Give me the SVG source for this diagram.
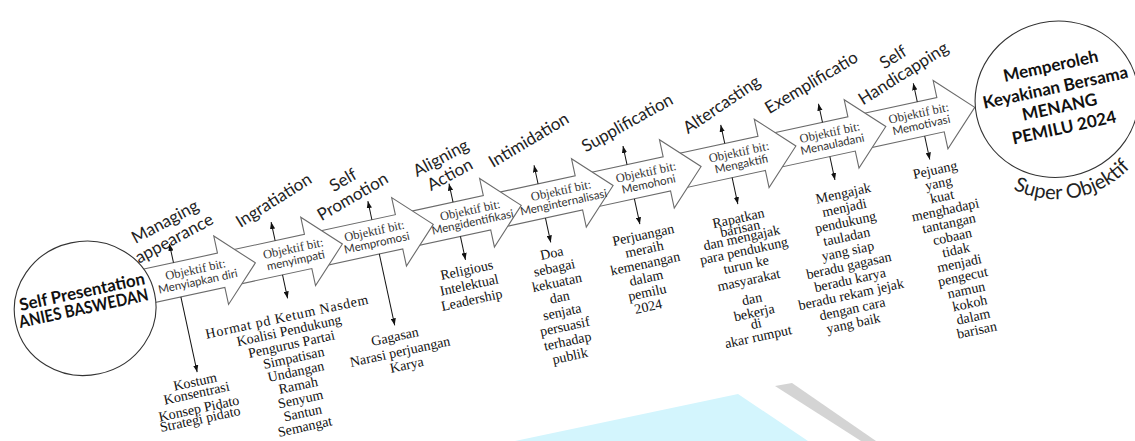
<svg xmlns="http://www.w3.org/2000/svg" width="1135" height="441" viewBox="0 0 1135 441">
<defs>
<style>
.arrow{fill:#fff;stroke:#6b6b6b;stroke-width:1.1}
.circ{fill:#fff;stroke:#333;stroke-width:1.1}
.tick{stroke:#111;stroke-width:1;fill:none;marker-end:url(#ah)}
.tac{font-family:Lato,"Open Sans",sans-serif;font-size:17px;fill:#222;text-anchor:middle}
.ob1{font-family:"Liberation Serif",serif;font-size:12.5px;fill:#333;text-anchor:middle}
.ob2{font-family:Lato,sans-serif;font-size:11.5px;fill:#333;text-anchor:middle}
.tm{font-family:"Liberation Serif",serif;font-size:14px;fill:#111;text-anchor:middle}
.bold{font-family:Lato,sans-serif;font-weight:bold;font-size:17px;fill:#111;text-anchor:middle}
.sup{font-family:Lato,sans-serif;font-size:20px;fill:#222}
</style>
<marker id="ah" viewBox="0 0 8 6" refX="8" refY="3" markerWidth="7" markerHeight="5.5" markerUnits="userSpaceOnUse" orient="auto"><path d="M0,0L8,3L0,6z" fill="#111"/></marker>
<clipPath id="exclip"><rect x="-80" y="-30" width="128" height="60"/></clipPath>
<path id="superArc" d="M1008.3,380.7 A100,100 0 0 0 1165.6,360"/>
</defs>
<rect width="1135" height="441" fill="#fff"/>
<g id="watermark">
<polygon points="515,441 738,394 808,441" fill="#d3f5fd"/>
<polygon points="775,386 792,383 876,441 861,441" fill="#d4d4d4"/>
</g>
<g transform="rotate(-12.2 82 308)">
<g id="step9">
<polygon class="arrow" points="876,283 962,283 962,265.5 997,300.5 962,335.5 962,318 876,318"/>
<text class="ob1" x="941" y="298.5">Objektif bit:</text>
<text class="ob2" x="941" y="310.5">Memotivasi</text>
<g transform="translate(931,243) rotate(-20)"><text class="tac" x="0" y="-3.5">Self</text><text class="tac" x="0" y="15.5">Handicapping</text></g>
</g>
<g id="step8">
<polygon class="arrow" points="784,283 871,283 871,265.5 906,300.5 871,335.5 871,318 784,318"/>
<text class="ob1" x="850" y="298.5">Objektif bit:</text>
<text class="ob2" x="850" y="310.5">Menauladani</text>
<g transform="translate(847,240) rotate(-18.6)"><g clip-path="url(#exclip)"><text class="tac" x="0" y="6">Exemplification</text></g></g>
</g>
<g id="step7">
<polygon class="arrow" points="687,283 779,283 779,265.5 814,300.5 779,335.5 779,318 687,318"/>
<text class="ob1" x="757" y="298.5">Objektif bit:</text>
<text class="ob2" x="757" y="310.5">Mengaktifi</text>
<g transform="translate(750,244) rotate(-22)"><text class="tac" x="0" y="6">Altercasting</text></g>
</g>
<g id="step6">
<polygon class="arrow" points="597,283 682,283 682,265.5 717,300.5 682,335.5 682,318 597,318"/>
<text class="ob1" x="662" y="298.5">Objektif bit:</text>
<text class="ob2" x="662" y="310.5">Memohoni</text>
<g transform="translate(654,242) rotate(-17)"><text class="tac" x="0" y="6">Supplification</text></g>
</g>
<g id="step5">
<polygon class="arrow" points="503,283 592,283 592,265.5 627,300.5 592,335.5 592,318 503,318"/>
<text class="ob1" x="575" y="298.5">Objektif bit:</text>
<text class="ob2" x="575" y="310.5">Menginternalisasi</text>
<g transform="translate(554,238) rotate(-18.6)"><text class="tac" x="0" y="6">Intimidation</text></g>
</g>
<g id="step4">
<polygon class="arrow" points="413,283 498,283 498,265.5 533,300.5 498,335.5 498,318 413,318"/>
<text class="ob1" x="482" y="298.5">Objektif bit:</text>
<text class="ob2" x="482" y="310.5">Mengidentifikasi</text>
<g transform="translate(467,246) rotate(-16)"><text class="tac" x="0" y="-3.5">Aligning</text><text class="tac" x="0" y="15.5">Action</text></g>
</g>
<g id="step3">
<polygon class="arrow" points="320,283 408,283 408,265.5 443,300.5 408,335.5 408,318 320,318"/>
<text class="ob1" x="384" y="298.5">Objektif bit:</text>
<text class="ob2" x="384" y="310.5">Mempromosi</text>
<g transform="translate(367,247) rotate(-18)"><text class="tac" x="0" y="-3.5">Self</text><text class="tac" x="0" y="15.5">Promotion</text></g>
</g>
<g id="step2">
<polygon class="arrow" points="231,283 315,283 315,265.5 350,300.5 315,335.5 315,318 231,318"/>
<text class="ob1" x="301" y="298.5">Objektif bit:</text>
<text class="ob2" x="301" y="310.5">menyimpati</text>
<g transform="translate(292,243) rotate(-20)"><text class="tac" x="0" y="6">Ingratiation</text></g>
</g>
<g id="step1">
<polygon class="arrow" points="140,283 226,283 226,265.5 261,300.5 226,335.5 226,318 140,318"/>
<text class="ob1" x="201" y="298.5">Objektif bit:</text>
<text class="ob2" x="201" y="310.5">Menyiapkan diri</text>
<g transform="translate(184,250) rotate(-16)"><text class="tac" x="0" y="-3.5">Managing</text><text class="tac" x="0" y="15.5">appearance</text></g>
</g>
<g id="self-presentation">
<ellipse class="circ" cx="85" cy="309" rx="71" ry="67"/>
<text class="bold" x="85.5" y="298" textLength="128" lengthAdjust="spacingAndGlyphs">Self Presentation</text>
<text class="bold" x="83.5" y="314.5" textLength="132" lengthAdjust="spacingAndGlyphs">ANIES BASWEDAN</text>
</g>
<g id="super-objektif">
<ellipse class="circ" cx="1079" cy="310" rx="82" ry="78"/>
<text class="bold" x="1080" y="282">Memperoleh</text>
<text class="bold" x="1080" y="304">Keyakinan Bersama</text>
<text class="bold" x="1080" y="324">MENANG</text>
<text class="bold" x="1080" y="345">PEMILU 2024</text>
<text class="sup"><textPath href="#superArc" startOffset="12">Super Objektif</textPath></text>
</g>
<g id="connectors">
<line class="tick" x1="181" y1="283" x2="181" y2="264"/>
<line class="tick" x1="285" y1="283" x2="285" y2="264"/>
<line class="tick" x1="384" y1="283" x2="384" y2="264"/>
<line class="tick" x1="467" y1="283" x2="467" y2="264"/>
<line class="tick" x1="554" y1="283" x2="554" y2="264"/>
<line class="tick" x1="645" y1="283" x2="645" y2="264"/>
<line class="tick" x1="745" y1="283" x2="745" y2="264"/>
<line class="tick" x1="845" y1="283" x2="845" y2="264"/>
<line class="tick" x1="942" y1="283" x2="942" y2="264"/>
<line class="tick" x1="181" y1="318" x2="181" y2="395"/>
<line class="tick" x1="285" y1="318" x2="285" y2="342"/>
<line class="tick" x1="384" y1="318" x2="384" y2="391"/>
<line class="tick" x1="467" y1="318" x2="467" y2="342"/>
<line class="tick" x1="554" y1="318" x2="554" y2="343"/>
<line class="tick" x1="645" y1="318" x2="645" y2="344"/>
<line class="tick" x1="745" y1="318" x2="745" y2="345"/>
<line class="tick" x1="845" y1="318" x2="845" y2="342"/>
<line class="tick" x1="942" y1="318" x2="942" y2="342"/>
</g>
<g id="notes1">
<text class="tm" x="177" y="408.5">Kostum</text>
<text class="tm" x="176" y="420">Konsentrasi</text>
<text class="tm" x="175" y="435.5">Konsep Pidato</text>
<text class="tm" x="174" y="446">Strategi pidato</text>
</g>
<g id="notes2">
<text class="tm" x="280.3" y="364.3" textLength="166">Hormat pd Ketum Nasdem</text>
<text class="tm" x="279.6" y="378.2">Koalisi Pendukung</text>
<text class="tm" x="279" y="392.1">Pengurus Partai</text>
<text class="tm" x="278.3" y="406">Simpatisan</text>
<text class="tm" x="277.6" y="419.9">Undangan</text>
<text class="tm" x="276.9" y="433.9">Ramah</text>
<text class="tm" x="276.3" y="447.8">Senyum</text>
<text class="tm" x="275.6" y="461.7">Santun</text>
<text class="tm" x="274.9" y="475.6">Semangat</text>
</g>
<g id="notes3">
<text class="tm" x="381.8" y="406.6">Gagasan</text>
<text class="tm" x="383.6" y="422.4">Narasi perjuangan</text>
<text class="tm" x="387.4" y="436.8">Karya</text>
</g>
<g id="notes4">
<text class="tm" x="466" y="356.7">Religious</text>
<text class="tm" x="465.3" y="371.9">Intelektual</text>
<text class="tm" x="464.6" y="387">Leadership</text>
</g>
<g id="notes5">
<text class="tm" x="552.7" y="358.2">Doa</text>
<text class="tm" x="552.2" y="373.1">sebagai</text>
<text class="tm" x="551.6" y="388">kekuatan</text>
<text class="tm" x="551.1" y="402.9">dan</text>
<text class="tm" x="550.5" y="417.8">senjata</text>
<text class="tm" x="550" y="432.7">persuasif</text>
<text class="tm" x="549.5" y="447.6">terhadap</text>
<text class="tm" x="548.9" y="462.5">publik</text>
</g>
<g id="notes6">
<text class="tm" x="646" y="359.7">Perjuangan</text>
<text class="tm" x="644" y="373.9">meraih</text>
<text class="tm" x="641.9" y="388.2">kemenangan</text>
<text class="tm" x="639.9" y="402.4">dalam</text>
<text class="tm" x="637.8" y="416.7">pemilu</text>
<text class="tm" x="635.8" y="430.9">2024</text>
</g>
<g id="notes7">
<text class="tm" x="742.5" y="363.5">Rapatkan</text>
<text class="tm" x="742" y="373.9">barisan</text>
<text class="tm" x="741.6" y="383.3">dan mengajak</text>
<text class="tm" x="741" y="396.5">para pendukung</text>
<text class="tm" x="740.3" y="410.5">turun ke</text>
<text class="tm" x="739.6" y="426.1">masyarakat</text>
<text class="tm" x="738.7" y="445.2">dan</text>
<text class="tm" x="738" y="459.1">bekerja</text>
<text class="tm" x="737.5" y="470.2">di</text>
<text class="tm" x="736.9" y="483.5">akar rumput</text>
</g>
<g id="notes8">
<text class="tm" x="850.3" y="361.3">Mengajak</text>
<text class="tm" x="848.3" y="375.7">menjadi</text>
<text class="tm" x="846.4" y="390">pendukung</text>
<text class="tm" x="844.4" y="404.4">tauladan</text>
<text class="tm" x="842.5" y="418.7">yang siap</text>
<text class="tm" x="840.5" y="433.1">beradu gagasan</text>
<text class="tm" x="838.6" y="447.5">beradu karya</text>
<text class="tm" x="836.6" y="461.8">beradu rekam jejak</text>
<text class="tm" x="834.7" y="476.2">dengan cara</text>
<text class="tm" x="832.7" y="490.5">yang baik</text>
</g>
<g id="notes9">
<text class="tm" x="944.9" y="357.8">Pejuang</text>
<text class="tm" x="945.5" y="371.6">yang</text>
<text class="tm" x="946.1" y="385.4">kuat</text>
<text class="tm" x="946.6" y="399.1">menghadapi</text>
<text class="tm" x="947.2" y="412.9">tantangan</text>
<text class="tm" x="947.8" y="426.7">cobaan</text>
<text class="tm" x="948.4" y="440.5">tidak</text>
<text class="tm" x="949" y="454.3">menjadi</text>
<text class="tm" x="949.6" y="468">pengecut</text>
<text class="tm" x="950.1" y="481.8">namun</text>
<text class="tm" x="950.7" y="495.6">kokoh</text>
<text class="tm" x="951.3" y="509.4">dalam</text>
<text class="tm" x="951.9" y="523.2">barisan</text>
</g>
</g>
</svg>
